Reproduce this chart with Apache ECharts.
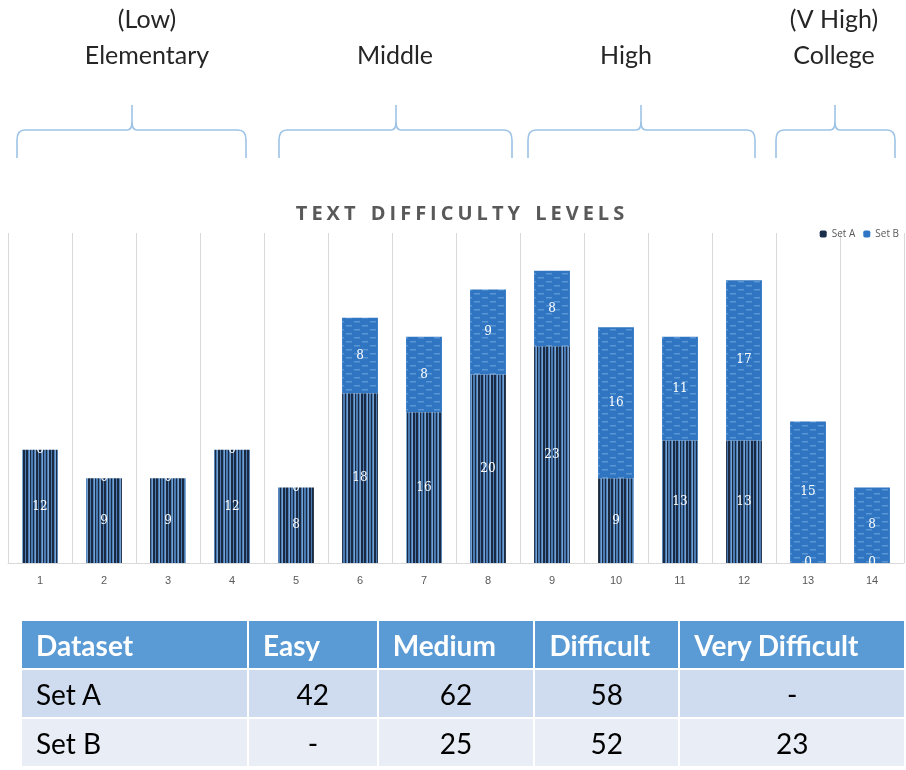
<!DOCTYPE html>
<html style="height: 100%" lang="en">
<head>
    <meta charset="utf-8">
    <script type="text/javascript" src="https://cdn.jsdelivr.net/npm/echarts@6/dist/echarts.min.js"></script>
    <style>
        body { margin: 0; background: #fff; }
        #title { position: absolute; left: 9px; width: 906px; top: 199px; text-align: center; font: bold 20px "Open Sans", sans-serif; color: #595959; letter-spacing: 4px; word-spacing: 2px; }
        #tbl { position: absolute; left: 20px; top: 619px; border-collapse: collapse; table-layout: fixed; font-family: Lato, "Open Sans", sans-serif; font-size: 28px; }
        #tbl td { border: 2px solid #fff; padding: 0 14px; height: 47px; white-space: nowrap; }
        #tbl tr.head td { background: #5b9bd5; color: #fff; font-weight: bold; }
        #tbl tr.r1 td { background: #cfdbee; color: #000; }
        #tbl tr.r2 td { background: #e8edf6; color: #000; }
    </style>
</head>
<body>
<div id="container" style="width: 906px; height: 770px"></div>
<div id="title">TEXT DIFFICULTY LEVELS</div>
<table id="tbl"></table>
<script type="text/javascript">
    // chart data
    var levels = ['1', '2', '3', '4', '5', '6', '7', '8', '9', '10', '11', '12', '13', '14'];
    var setA = [12, 9, 9, 12, 8, 18, 16, 20, 23, 9, 13, 13, 0, 0];
    var setB = [0, 0, 0, 0, 0, 8, 8, 9, 8, 16, 11, 17, 15, 8];

    // table data
    var tableHead = ['Dataset', 'Easy', 'Medium', 'Difficult', 'Very Difficult'];
    var tableSetA = ['Set A', '42', '62', '58', '-'];
    var tableSetB = ['Set B', '-', '25', '52', '23'];
    var colWidths = [228, 130, 157, 145, 226];

    // group labels above the chart
    var groupNames = ['(Low)\nElementary', 'Middle', 'High', '(V High)\nCollege'];

    // stripe patterns like the excel fills
    function stripeA() {
        var c = document.createElement('canvas');
        c.width = 13; c.height = 4;
        var g = c.getContext('2d');
        g.fillStyle = '#4a7cb3';
        g.fillRect(0, 0, 13, 4);
        g.fillStyle = '#1a2a42';
        [[0, 2], [4, 1], [7, 1], [10, 2]].forEach(function (s) { g.fillRect(s[0], 0, s[1], 4); });
        g.fillStyle = '#75a2d2';
        g.fillRect(3, 0, 1, 4);
        g.fillRect(9, 0, 1, 4);
        return c;
    }
    function dashB() {
        var c = document.createElement('canvas');
        c.width = 16; c.height = 8;
        var g = c.getContext('2d');
        g.fillStyle = '#2f75c1';
        g.fillRect(0, 0, 16, 8);
        g.fillStyle = '#5c97d5';
        g.fillRect(2, 1, 6, 1.5);
        g.fillRect(10, 5, 6, 1.5);
        return c;
    }

    // curly brace made of lines and quadratic curves
    var braceStyle = { fill: null, stroke: '#9dc3e6', lineWidth: 1.6 };
    function seg(x1, y1, x2, y2) {
        return { type: 'line', shape: { x1: x1, y1: y1, x2: x2, y2: y2 }, style: braceStyle };
    }
    function curve(x1, y1, cx, cy, x2, y2) {
        return { type: 'bezierCurve', shape: { x1: x1, y1: y1, cpx1: cx, cpy1: cy, x2: x2, y2: y2 }, style: braceStyle };
    }
    function brace(x1, x2, xm) {
        return {
            type: 'group',
            children: [
                seg(x1, 158, x1, 140),
                curve(x1, 140, x1, 130, x1 + 8, 130),
                seg(x1 + 8, 130, xm - 5, 130),
                curve(xm - 5, 130, xm, 130, xm, 122),
                seg(xm, 122, xm, 105),
                curve(xm, 122, xm, 130, xm + 5, 130),
                seg(xm + 5, 130, x2 - 8, 130),
                curve(x2 - 8, 130, x2, 130, x2, 140),
                seg(x2, 140, x2, 158)
            ]
        };
    }
    var braces = [[17, 246, 132], [279, 512, 396], [528, 755, 641], [776, 895, 835]];
    var labelPos = [[147, 2], [395, 38], [626, 38], [834, 2]];

    var graphics = [];
    braces.forEach(function (b) {
        graphics.push(brace(b[0], b[1], b[2]));
    });
    groupNames.forEach(function (name, i) {
        graphics.push({
            type: 'text',
            x: labelPos[i][0],
            y: labelPos[i][1],
            style: {
                text: name,
                font: '25px Lato, "Open Sans", sans-serif',
                fill: '#262626',
                align: 'center',
                verticalAlign: 'top',
                lineHeight: 36
            }
        });
    });

    var dom = document.getElementById('container');
    var myChart = echarts.init(dom);

    var labelStyle = {
        show: true,
        position: 'inside',
        color: '#fff',
        fontSize: 12,
        fontFamily: '"DejaVu Serif", serif'
    };

    var option = {
        animation: false,
        legend: {
            right: 2,
            top: 224,
            itemWidth: 7,
            itemHeight: 7,
            itemGap: 8,
            textStyle: { color: '#595959', fontSize: 10, fontFamily: '"Open Sans", sans-serif' },
            data: [
                { name: 'Set A', itemStyle: { color: '#1c2f4a' } },
                { name: 'Set B', itemStyle: { color: '#2e75c6' } }
            ]
        },
        grid: { left: 8, right: 2, top: 233, bottom: 207 },
        xAxis: {
            type: 'category',
            data: levels,
            axisLine: { lineStyle: { color: '#d9d9d9' } },
            axisTick: { show: false },
            axisLabel: { color: '#595959', fontSize: 11, margin: 12 },
            splitLine: { show: true, interval: 0, lineStyle: { color: '#d9d9d9' } }
        },
        yAxis: {
            type: 'value',
            min: 0,
            max: 35,
            show: false,
            splitLine: { show: false }
        },
        series: [
            {
                name: 'Set A',
                type: 'bar',
                stack: 'total',
                barWidth: '56%',
                data: setA,
                itemStyle: { color: { image: stripeA(), repeat: 'repeat' } },
                label: labelStyle
            },
            {
                name: 'Set B',
                type: 'bar',
                stack: 'total',
                data: setB,
                itemStyle: { color: { image: dashB(), repeat: 'repeat' } },
                label: labelStyle
            }
        ],
        graphic: graphics
    };
    myChart.setOption(option);

    // table under the chart
    var tbl = document.getElementById('tbl');
    [[tableHead, 'head'], [tableSetA, 'r1'], [tableSetB, 'r2']].forEach(function (row) {
        var tr = document.createElement('tr');
        tr.className = row[1];
        row[0].forEach(function (v, j) {
            var td = document.createElement('td');
            td.textContent = v;
            td.style.width = (colWidths[j] - 30) + 'px';
            td.style.textAlign = (row[1] === 'head' || j === 0) ? 'left' : 'center';
            tr.appendChild(td);
        });
        tbl.appendChild(tr);
    });
</script>
</body>
</html>
